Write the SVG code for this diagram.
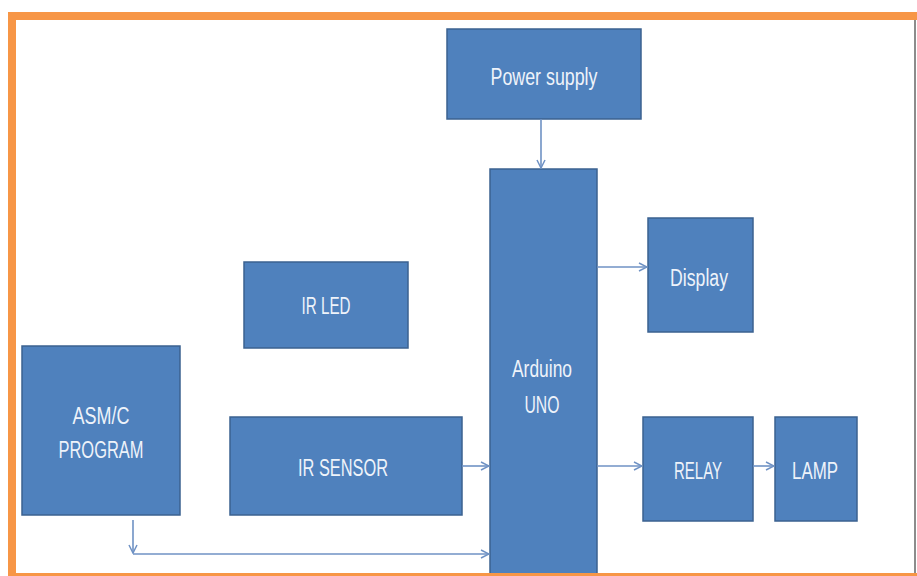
<svg xmlns="http://www.w3.org/2000/svg" width="917" height="576" viewBox="0 0 917 576">
<style>
.box{fill:#4f81bd;stroke:#3b6290;stroke-width:1.5}
.lbl{font-family:"Liberation Sans",Arial,sans-serif;font-size:23px;fill:#eef3fa;text-anchor:middle}
.conn{fill:none;stroke:#6f92c4;stroke-width:1.6}
</style>
<defs>
<marker id="arr" viewBox="0 0 10 10" refX="9" refY="5" markerWidth="10" markerHeight="10" markerUnits="userSpaceOnUse" orient="auto">
<path d="M1,1 L9,5 L1,9" fill="none" stroke="#6f92c4" stroke-width="1.5"/>
</marker>
</defs>
<rect x="0" y="0" width="917" height="576" fill="#ffffff"/>
<g id="power-supply"><rect class="box" x="447" y="29" width="194" height="90"/><text class="lbl" x="544" y="85" textLength="107" lengthAdjust="spacingAndGlyphs">Power supply</text></g>
<g id="arduino"><rect class="box" x="490" y="169" width="107" height="420"/><text class="lbl" x="542" y="377" textLength="60" lengthAdjust="spacingAndGlyphs">Arduino</text><text class="lbl" x="542" y="413" textLength="35" lengthAdjust="spacingAndGlyphs">UNO</text></g>
<g id="display"><rect class="box" x="648" y="218" width="105" height="114"/><text class="lbl" x="699" y="286" textLength="58" lengthAdjust="spacingAndGlyphs">Display</text></g>
<g id="ir-led"><rect class="box" x="244" y="262" width="164" height="86"/><text class="lbl" x="326" y="314" textLength="49" lengthAdjust="spacingAndGlyphs">IR LED</text></g>
<g id="asm-program"><rect class="box" x="22" y="346" width="158" height="169"/><text class="lbl" x="101" y="424" textLength="57" lengthAdjust="spacingAndGlyphs">ASM/C</text><text class="lbl" x="101" y="458" textLength="85" lengthAdjust="spacingAndGlyphs">PROGRAM</text></g>
<g id="ir-sensor"><rect class="box" x="230" y="417" width="232" height="98"/><text class="lbl" x="343" y="476" textLength="90" lengthAdjust="spacingAndGlyphs">IR SENSOR</text></g>
<g id="relay"><rect class="box" x="643" y="417" width="110" height="104"/><text class="lbl" x="698" y="479" textLength="48" lengthAdjust="spacingAndGlyphs">RELAY</text></g>
<g id="lamp"><rect class="box" x="775" y="417" width="82" height="104"/><text class="lbl" x="815" y="479" textLength="46" lengthAdjust="spacingAndGlyphs">LAMP</text></g>
<g id="connectors">
<path class="conn" d="M541,119 V168" marker-end="url(#arr)"/>
<path class="conn" d="M597,267 H647" marker-end="url(#arr)"/>
<path class="conn" d="M597,466 H642" marker-end="url(#arr)"/>
<path class="conn" d="M753,466 H774" marker-end="url(#arr)"/>
<path class="conn" d="M462,466 H489" marker-end="url(#arr)"/>
<path class="conn" d="M133,520 V553" marker-end="url(#arr)"/>
<path class="conn" d="M133,554 H489" marker-end="url(#arr)"/>
</g>
<g id="frame">
<rect x="8" y="12" width="909" height="8" fill="#f79646"/>
<rect x="8" y="12" width="8" height="564" fill="#f79646"/>
<rect x="8" y="573" width="909" height="3" fill="#f79646"/>
<rect x="914" y="20" width="2" height="553" fill="#8c8c8c"/>
</g>
</svg>
